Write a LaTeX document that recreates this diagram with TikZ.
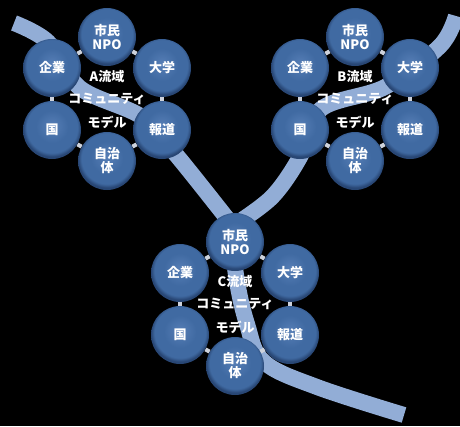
\documentclass[tikz,border=0pt]{standalone}
\usepackage{fontspec}
\newfontfamily\cjk{Noto Sans CJK JP}
\usetikzlibrary{calc}
\pgfdeclarelayer{river}
\pgfdeclarelayer{link}
\pgfsetlayers{river,link,main}
\definecolor{rivercol}{RGB}{146,173,214}
\definecolor{ballin}{RGB}{86,126,182}
\definecolor{ballmid}{RGB}{64,106,162}
\definecolor{ballout}{RGB}{40,70,116}
\definecolor{linkcol}{RGB}{205,210,220}
\pgfdeclareradialshading{blueball}{\pgfpoint{0bp}{4bp}}{%
  color(0bp)=(ballin); color(14bp)=(ballmid); color(22bp)=(ballmid); color(25bp)=(ballout); color(50bp)=(ballout)}
\tikzset{
  ball/.style={circle, minimum size=58pt, inner sep=0pt, shading=blueball,
    text=white, font=\cjk\bfseries\fontsize{13}{14}\selectfont, align=center},
  ctitle/.style={text=white, inner sep=0pt, font=\cjk\bfseries\fontsize{13}{15}\selectfont},
  linkbar/.style={draw=linkcol, line width=4pt},
  riverband/.style={draw=rivercol, line width=16pt, line cap=butt, line join=round}
}
\newcommand\mycluster[4]{%
  \begin{scope}[shift={(#2,#3)}]
    \node[ball] (#1npo) at (0,0) {市民\\NPO};
    \node[ball] (#1corp) at (-55,31) {企業};
    \node[ball] (#1univ) at (55,31) {大学};
    \node[ball] (#1kuni) at (-55,93) {国};
    \node[ball] (#1press) at (55,93) {報道};
    \node[ball] (#1jichi) at (0,124) {自治\\体};
    \node[ctitle] (#1ta) at (0,40) {#4流域};
    \node[ctitle] (#1tb) at (0,62) {コミュニティ};
    \node[ctitle] (#1tc) at (0,85) {モデル};
  \end{scope}
  \begin{pgfonlayer}{link}
    \draw[linkbar] (#1npo) -- (#1univ);
    \draw[linkbar] (#1univ) -- (#1press);
    \draw[linkbar] (#1press) -- (#1jichi);
    \draw[linkbar] (#1jichi) -- (#1kuni);
    \draw[linkbar] (#1kuni) -- (#1corp);
    \draw[linkbar] (#1corp) -- (#1npo);
  \end{pgfonlayer}}
\begin{document}
\begin{tikzpicture}[x=1pt, y=-1pt]
  \begin{pgfonlayer}{river}
    \fill[black] (0,0) rectangle (460,426);
    \useasboundingbox (0,0) rectangle (460,426);
    % river from A
    \draw[riverband] plot[smooth, tension=0.55] coordinates
      {(14,23) (48,42) (80,88) (142,117) (178,157) (233,226)};
    % river from B
    \draw[riverband] plot[smooth, tension=0.55] coordinates
      {(456,16) (440,46) (385,87) (321,109) (300,157) (272,197) (233,226)};
    % river C
    \draw[riverband] plot[smooth, tension=0.6] coordinates
      {(230,215) (236,275) (247,324) (264,362) (317,387) (404,415)};
  \end{pgfonlayer}
  \mycluster{a}{107}{37}{A}
  \mycluster{b}{355}{37}{B}
  \mycluster{c}{235}{242}{C}
\end{tikzpicture}
\end{document}
